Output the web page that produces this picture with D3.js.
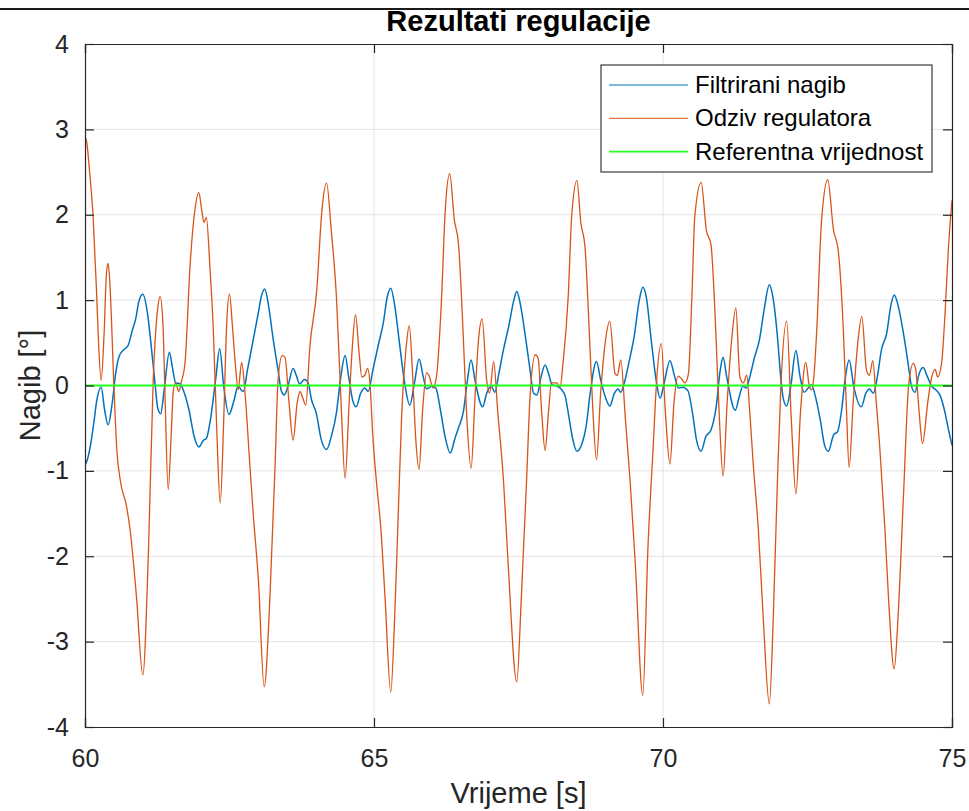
<!DOCTYPE html>
<html>
<head>
<meta charset="utf-8">
<script src="https://cdnjs.cloudflare.com/ajax/libs/d3/7.8.5/d3.min.js"></script>
<style>
    body { margin: 0; background: #fff; }
    svg { display: block; font-family: "Liberation Sans", Arial, Helvetica, sans-serif; }
</style>
</head>
<body>
<div id="chart"></div>
<script>

// values (time in s, angle in deg)
var filtT = [60.00, 60.04, 60.10, 60.16, 60.20, 60.28, 60.34, 60.40, 60.47, 60.53, 60.59, 60.67, 60.74, 60.82, 60.88, 60.93, 61.00, 61.08, 61.14, 61.21, 61.26, 61.31, 61.37, 61.46, 61.51, 61.57, 61.64, 61.71, 61.80, 61.89, 61.97, 62.05, 62.10, 62.17, 62.26, 62.33, 62.40, 62.49, 62.58, 62.65, 62.70, 62.74, 62.81, 62.92, 62.99, 63.05, 63.11, 63.17, 63.25, 63.34, 63.40, 63.45, 63.51, 63.60, 63.66, 63.71, 63.80, 63.86, 63.92, 64.00, 64.09, 64.18, 64.26, 64.35, 64.42, 64.50, 64.56, 64.63, 64.69, 64.77, 64.84, 64.90, 64.98, 65.07, 65.16, 65.23, 65.29, 65.36, 65.44, 65.53, 65.62, 65.70, 65.78, 65.85, 65.91, 66.00, 66.07, 66.15, 66.23, 66.32, 66.40, 66.46, 66.55, 66.61, 66.68, 66.75, 66.88, 66.95, 67.03, 67.09, 67.16, 67.24, 67.33, 67.42, 67.47, 67.53, 67.62, 67.70, 67.76, 67.82, 67.88, 67.96, 68.02, 68.08, 68.17, 68.25, 68.31, 68.37, 68.43, 68.51, 68.60, 68.67, 68.74, 68.85, 68.92, 69.00, 69.08, 69.16, 69.22, 69.27, 69.33, 69.42, 69.50, 69.59, 69.65, 69.71, 69.79, 69.88, 69.95, 70.02, 70.12, 70.20, 70.27, 70.34, 70.43, 70.51, 70.58, 70.66, 70.74, 70.83, 70.92, 70.99, 71.04, 71.10, 71.25, 71.32, 71.38, 71.44, 71.49, 71.58, 71.67, 71.75, 71.84, 71.90, 71.98, 72.03, 72.08, 72.14, 72.21, 72.30, 72.37, 72.44, 72.51, 72.57, 72.63, 72.72, 72.80, 72.86, 72.95, 73.02, 73.09, 73.15, 73.22, 73.30, 73.43, 73.51, 73.57, 73.64, 73.71, 73.78, 73.87, 73.94, 74.00, 74.07, 74.16, 74.24, 74.30, 74.36, 74.42, 74.50, 74.57, 74.65, 74.72, 74.79, 74.88, 74.94, 75.00];
var filtV = [-0.93, -0.87, -0.68, -0.40, -0.19, -0.02, -0.29, -0.46, -0.21, 0.14, 0.34, 0.42, 0.46, 0.65, 0.79, 0.98, 1.07, 0.85, 0.50, 0.03, -0.27, -0.33, -0.05, 0.39, 0.22, 0.03, 0.02, -0.07, -0.29, -0.60, -0.72, -0.64, -0.62, -0.40, 0.07, 0.43, -0.01, -0.34, -0.17, 0.00, -0.05, -0.07, 0.18, 0.57, 0.82, 1.04, 1.13, 0.96, 0.57, 0.18, -0.07, -0.11, -0.01, 0.20, 0.11, 0.02, 0.07, 0.03, -0.17, -0.32, -0.64, -0.75, -0.60, -0.32, 0.07, 0.35, 0.11, -0.17, -0.25, -0.09, -0.03, -0.07, 0.18, 0.46, 0.73, 1.04, 1.14, 0.93, 0.50, 0.03, -0.23, 0.03, 0.31, 0.11, -0.04, -0.01, -0.03, -0.29, -0.60, -0.79, -0.62, -0.50, -0.29, 0.03, 0.30, 0.05, -0.25, -0.09, -0.01, -0.08, 0.14, 0.42, 0.69, 1.00, 1.10, 0.96, 0.57, 0.18, -0.09, -0.11, 0.07, 0.24, 0.14, 0.01, -0.01, -0.05, -0.13, -0.36, -0.60, -0.77, -0.68, -0.48, -0.09, 0.28, 0.07, -0.13, -0.24, -0.09, -0.04, -0.08, 0.03, 0.30, 0.57, 1.00, 1.15, 1.04, 0.57, 0.07, -0.15, 0.03, 0.29, 0.11, -0.03, -0.02, -0.06, -0.32, -0.64, -0.77, -0.60, -0.52, -0.25, 0.18, 0.33, 0.11, -0.29, -0.13, -0.01, -0.03, 0.07, 0.32, 0.54, 0.89, 1.18, 1.04, 0.57, 0.15, -0.15, -0.24, -0.01, 0.41, 0.11, -0.08, -0.03, 0.01, -0.11, -0.40, -0.71, -0.77, -0.58, -0.54, -0.29, 0.07, 0.30, -0.01, -0.25, -0.09, -0.04, -0.09, 0.11, 0.42, 0.61, 0.93, 1.06, 0.93, 0.61, 0.26, -0.01, -0.08, 0.11, 0.21, 0.11, -0.01, -0.05, -0.11, -0.32, -0.52, -0.70];

var odzivT = [60.00, 60.03, 60.08, 60.14, 60.20, 60.23, 60.28, 60.33, 60.37, 60.40, 60.43, 60.50, 60.55, 60.61, 60.72, 60.78, 60.89, 61.00, 61.10, 61.18, 61.25, 61.30, 61.35, 61.38, 61.44, 61.49, 61.53, 61.57, 61.62, 61.67, 61.73, 61.82, 61.90, 61.97, 62.02, 62.06, 62.10, 62.16, 62.22, 62.28, 62.34, 62.40, 62.45, 62.50, 62.55, 62.60, 62.65, 62.71, 62.77, 62.85, 62.91, 63.00, 63.10, 63.20, 63.29, 63.34, 63.41, 63.46, 63.53, 63.60, 63.67, 63.72, 63.77, 63.82, 63.89, 64.01, 64.10, 64.18, 64.26, 64.35, 64.43, 64.50, 64.57, 64.62, 64.68, 64.74, 64.79, 64.84, 64.89, 64.93, 64.98, 65.04, 65.12, 65.19, 65.29, 65.36, 65.42, 65.48, 65.55, 65.61, 65.67, 65.72, 65.78, 65.84, 65.91, 65.96, 66.02, 66.08, 66.17, 66.23, 66.31, 66.39, 66.46, 66.54, 66.60, 66.68, 66.75, 66.81, 66.87, 66.95, 67.00, 67.07, 67.14, 67.24, 67.32, 67.47, 67.55, 67.64, 67.70, 67.79, 67.84, 67.90, 67.96, 68.02, 68.07, 68.16, 68.22, 68.27, 68.36, 68.42, 68.51, 68.58, 68.65, 68.71, 68.78, 68.85, 68.92, 69.00, 69.08, 69.17, 69.21, 69.27, 69.35, 69.43, 69.52, 69.65, 69.74, 69.83, 69.89, 69.97, 70.04, 70.12, 70.19, 70.26, 70.32, 70.38, 70.44, 70.50, 70.55, 70.66, 70.75, 70.83, 70.90, 70.97, 71.04, 71.11, 71.19, 71.26, 71.33, 71.39, 71.45, 71.50, 71.56, 71.65, 71.73, 71.84, 71.91, 71.98, 72.04, 72.14, 72.22, 72.30, 72.38, 72.47, 72.53, 72.57, 72.61, 72.66, 72.74, 72.85, 72.95, 73.03, 73.12, 73.17, 73.22, 73.29, 73.37, 73.44, 73.52, 73.57, 73.63, 73.69, 73.75, 73.84, 73.90, 74.00, 74.07, 74.16, 74.25, 74.33, 74.37, 74.43, 74.49, 74.58, 74.65, 74.71, 74.75, 74.82, 74.88, 74.94, 75.00];
var odzivV = [2.92, 2.85, 2.50, 1.98, 1.10, 0.57, 0.06, 0.60, 1.30, 1.43, 1.20, 0.00, -0.75, -1.11, -1.42, -1.69, -2.47, -3.39, -1.89, 0.06, 0.85, 1.04, 0.70, 0.00, -1.22, -0.60, -0.05, 0.03, -0.07, 0.05, 0.26, 1.43, 2.05, 2.26, 2.05, 1.91, 1.97, 1.40, 0.65, -0.52, -1.38, -0.40, 0.70, 1.07, 0.70, 0.26, -0.05, 0.27, -0.10, -0.91, -1.50, -2.28, -3.53, -2.47, -0.91, 0.06, 0.35, 0.33, -0.20, -0.64, -0.21, -0.07, -0.15, -0.23, 0.45, 1.12, 2.06, 2.37, 1.82, 1.04, -0.20, -1.09, -0.20, 0.40, 0.83, 0.40, 0.10, 0.12, 0.20, 0.03, -0.60, -1.11, -1.69, -2.47, -3.59, -2.67, -1.50, -0.33, 0.40, 0.70, 0.10, -0.60, -0.98, -0.30, 0.15, 0.10, -0.03, 0.10, 1.04, 2.02, 2.48, 1.94, 1.67, 0.65, -0.30, -0.97, -0.10, 0.55, 0.78, 0.06, -0.09, 0.28, -0.30, -1.11, -2.08, -3.47, -2.47, -1.11, -0.13, 0.36, 0.32, -0.30, -0.76, -0.30, 0.03, 0.03, -0.02, 0.26, 1.04, 1.98, 2.40, 1.90, 1.63, 0.85, -0.20, -0.87, -0.10, 0.50, 0.75, 0.14, 0.12, 0.30, -0.40, -1.11, -2.08, -3.63, -1.89, -0.72, 0.06, 0.49, -0.30, -0.92, -0.20, 0.11, 0.08, 0.03, 0.14, 1.04, 1.98, 2.38, 1.82, 1.65, 0.85, -0.30, -1.06, -0.20, 0.55, 0.91, 0.10, 0.03, 0.12, -0.30, -0.91, -1.69, -2.67, -3.73, -2.67, -1.11, 0.00, 0.75, -0.40, -1.27, -0.30, 0.27, 0.00, -0.05, 0.10, 0.65, 1.90, 2.41, 1.82, 1.59, 0.65, -0.20, -0.96, -0.20, 0.50, 0.81, 0.18, 0.12, 0.29, -0.20, -0.72, -1.69, -2.47, -3.32, -2.67, -1.30, 0.00, 0.26, 0.20, -0.30, -0.68, -0.20, 0.10, 0.19, 0.10, 0.26, 0.85, 1.63, 2.17];

var refT = [60, 75];
var refV = [0, 0];

var xTicks = [60, 65, 70, 75];
var yTicks = [-4, -3, -2, -1, 0, 1, 2, 3, 4];
var seriesNames = ["Filtrirani nagib", "Odziv regulatora", "Referentna vrijednost"];
var seriesColors = ["#0072bd", "#d95319", "#22ff22"];

var W = 969, H = 811;
var margin = { top: 44, right: 17, bottom: 84, left: 85 };
var width = W - margin.left - margin.right;
var height = H - margin.top - margin.bottom;

var svg = d3.select("#chart").append("svg")
    .attr("width", W)
    .attr("height", H);

// the dark strip on top of the figure
svg.append("line")
    .attr("x1", 0).attr("x2", W)
    .attr("y1", 9).attr("y2", 9)
    .attr("stroke", "#1a1a1a")
    .attr("stroke-width", 2);

var g = svg.append("g")
    .attr("transform", "translate(" + margin.left + "," + margin.top + ")");

var x = d3.scaleLinear().domain([60, 75]).range([0, width]);
var y = d3.scaleLinear().domain([-4, 4]).range([height, 0]);

// grid
g.append("g").selectAll("line.gx")
    .data(xTicks.slice(1, -1))
    .enter().append("line")
    .attr("x1", d => x(d)).attr("x2", d => x(d))
    .attr("y1", 0).attr("y2", height)
    .attr("stroke", "#e3e3e3").attr("stroke-width", 1);

g.append("g").selectAll("line.gy")
    .data(yTicks.slice(1, -1))
    .enter().append("line")
    .attr("x1", 0).attr("x2", width)
    .attr("y1", d => y(d)).attr("y2", d => y(d))
    .attr("stroke", "#e3e3e3").attr("stroke-width", 1);

// lines
var line = d3.line()
    .x(d => x(d[0]))
    .y(d => y(d[1]))
    .curve(d3.curveMonotoneX);

var allSeries = [
    d3.zip(filtT, filtV),
    d3.zip(odzivT, odzivV),
    d3.zip(refT, refV)
];
var widths = [1.5, 1.3, 2];

g.append("defs").append("clipPath").attr("id", "clip")
    .append("rect").attr("width", width).attr("height", height);

// draw order: blue first, orange over it, green on top
allSeries.forEach(function (s, i) {
    g.append("path")
        .datum(s)
        .attr("clip-path", "url(#clip)")
        .attr("fill", "none")
        .attr("stroke", seriesColors[i])
        .attr("stroke-width", widths[i])
        .attr("stroke-linejoin", "round")
        .attr("d", line);
});

// axes, MATLAB style ticks pointing inside
var axisColor = "#262626";
var tickLen = 9;

var xAxisB = d3.axisBottom(x).tickValues(xTicks).tickSize(-tickLen).tickPadding(22);
var xAxisT = d3.axisTop(x).tickValues(xTicks).tickSize(-tickLen).tickFormat("");
var yAxisL = d3.axisLeft(y).tickValues(yTicks).tickSize(-tickLen).tickPadding(16).tickFormat(d3.format("d"));
var yAxisR = d3.axisRight(y).tickValues(yTicks).tickSize(-tickLen).tickFormat("");

g.append("g").attr("transform", "translate(0," + height + ")").call(xAxisB);
g.append("g").call(xAxisT);
g.append("g").call(yAxisL);
g.append("g").attr("transform", "translate(" + width + ",0)").call(yAxisR);

g.selectAll(".domain").attr("stroke", axisColor).attr("stroke-width", 1.2);
g.selectAll(".tick line").attr("stroke", axisColor).attr("stroke-width", 1.2);
g.selectAll(".tick text")
    .attr("fill", axisColor)
    .style("font-size", "25px")
    .style("font-family", "Liberation Sans, Arial, sans-serif");
// MATLAB writes the minus as a plain hyphen
g.selectAll(".tick text").text(function () { return this.textContent.replace("\u2212", "-"); });

// title and axis labels
svg.append("text")
    .attr("x", margin.left + width / 2)
    .attr("y", 31)
    .attr("text-anchor", "middle")
    .style("font-size", "29px")
    .style("font-weight", "bold")
    .attr("fill", "#000")
    .text("Rezultati regulacije");

svg.append("text")
    .attr("x", margin.left + width / 2)
    .attr("y", 803)
    .attr("text-anchor", "middle")
    .style("font-size", "29px")
    .attr("fill", axisColor)
    .text("Vrijeme [s]");

svg.append("text")
    .attr("transform", "translate(40," + (margin.top + height / 2) + ") rotate(-90)")
    .attr("text-anchor", "middle")
    .style("font-size", "29px")
    .attr("fill", axisColor)
    .text("Nagib [°]");

// legend
var lg = svg.append("g").attr("transform", "translate(601,65)");
lg.append("rect")
    .attr("width", 331).attr("height", 107)
    .attr("fill", "#fff")
    .attr("stroke", "#3a3a3a")
    .attr("stroke-width", 1.2);

var rows = lg.selectAll("g.row")
    .data(seriesNames)
    .enter().append("g")
    .attr("transform", (d, i) => "translate(0," + (20 + i * 33.3) + ")");

rows.append("line")
    .attr("x1", 8).attr("x2", 87)
    .attr("stroke", (d, i) => seriesColors[i])
    .attr("stroke-width", (d, i) => widths[i] - 0.3);

rows.append("text")
    .attr("x", 94)
    .attr("y", 8)
    .style("font-size", "24px")
    .attr("fill", "#000")
    .text(d => d);

</script>
</body>
</html>
